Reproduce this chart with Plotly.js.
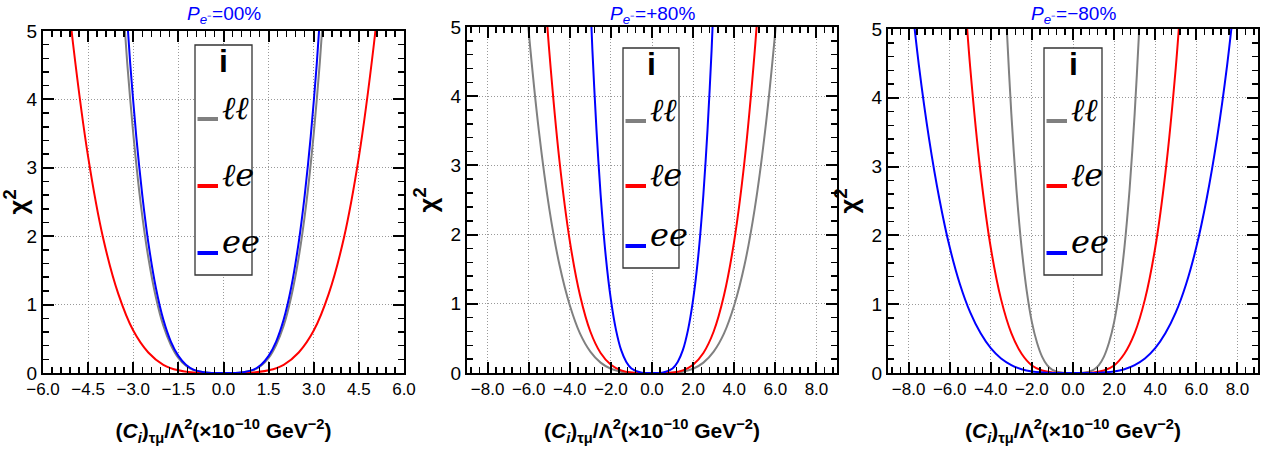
<!DOCTYPE html>
<html><head><meta charset="utf-8">
<script src="https://cdn.plot.ly/plotly-3.0.1.min.js"></script>
<style>html,body{margin:0;padding:0;background:#fff}</style>
</head><body><div id="chart" style="width:1271px;height:454px"></div>
<script>
// ---- data ----
const panelPolarisations = ['00%', '+80%', '\u221280%'];
const seriesNames = ['\u2113\u2113', '\u2113e', 'ee'];
const seriesColors = ['#808080', '#ff0000', '#0000ff'];

// Panel 1 : P = 00%
const p1_ll_x = [-3.4,-3.2,-3.0,-2.75,-2.5,-2.25,-2.0,-1.75,-1.5,-1.25,-1.0,-0.5,0,0.5,1.0,1.25,1.5,1.75,2.0,2.25,2.5,2.75,3.0,3.2,3.4];
const p1_ll_y = [5.77,4.53,3.50,2.47,1.69,1.11,0.69,0.41,0.22,0.105,0.043,0.003,0,0.003,0.043,0.105,0.22,0.41,0.69,1.11,1.69,2.47,3.50,4.53,5.77];
const p1_le_x = [-5.3,-5.0,-4.5,-4.0,-3.5,-3.0,-2.5,-2.0,-1.5,-1.0,-0.5,0,0.5,1.0,1.5,2.0,2.5,3.0,3.5,4.0,4.5,5.0,5.3];
const p1_le_y = [6.08,4.81,3.16,1.97,1.16,0.62,0.30,0.12,0.039,0.008,0.0005,0,0.0005,0.008,0.039,0.12,0.30,0.62,1.16,1.97,3.16,4.81,6.08];
const p1_ee_x = [-3.3,-3.1,-2.9,-2.7,-2.5,-2.25,-2.0,-1.75,-1.5,-1.25,-1.0,-0.5,0,0.5,1.0,1.25,1.5,1.75,2.0,2.25,2.5,2.7,2.9,3.1,3.3];
const p1_ee_y = [5.80,4.52,3.46,2.60,1.91,1.25,0.78,0.46,0.25,0.12,0.049,0.003,0,0.003,0.049,0.12,0.25,0.46,0.78,1.25,1.91,2.60,3.46,4.52,5.80];

// Panel 2 : P = +80%
const p2_ll_x = [-6.3,-6.0,-5.5,-5.0,-4.5,-4.0,-3.5,-3.0,-2.5,-2.0,-1.5,-1.0,0,1.0,1.5,2.0,2.5,3.0,3.5,4.0,4.5,5.0,5.5,6.0,6.3];
const p2_ll_y = [6.0,4.94,3.49,2.38,1.56,0.98,0.57,0.31,0.15,0.061,0.019,0.004,0,0.004,0.019,0.061,0.15,0.31,0.57,0.98,1.56,2.38,3.49,4.94,6.0];
const p2_le_x = [-5.4,-5.0,-4.5,-4.0,-3.5,-3.0,-2.5,-2.0,-1.5,-1.0,0,1.0,1.5,2.0,2.5,3.0,3.5,4.0,4.5,5.0,5.4];
const p2_le_y = [6.33,4.66,3.06,1.91,1.12,0.60,0.29,0.12,0.038,0.007,0,0.007,0.038,0.12,0.29,0.60,1.12,1.91,3.06,4.66,6.33];
const p2_ee_x = [-3.1,-2.9,-2.7,-2.5,-2.25,-2.0,-1.75,-1.5,-1.25,-1.0,-0.5,0,0.5,1.0,1.25,1.5,1.75,2.0,2.25,2.5,2.7,2.9,3.1];
const p2_ee_y = [6.10,4.67,3.51,2.58,1.69,1.06,0.62,0.33,0.16,0.066,0.004,0,0.004,0.066,0.16,0.33,0.62,1.06,1.69,2.58,3.51,4.67,6.10];

// Panel 3 : P = -80%
const p3_ll_x = [-3.4,-3.2,-3.0,-2.75,-2.5,-2.25,-2.0,-1.75,-1.5,-1.25,-1.0,-0.5,0,0.5,1.0,1.25,1.5,1.75,2.0,2.25,2.5,2.75,3.0,3.2,3.4];
const p3_ll_y = [6.21,4.88,3.77,2.66,1.82,1.19,0.74,0.44,0.235,0.11,0.047,0.003,0,0.003,0.047,0.11,0.235,0.44,0.74,1.19,1.82,2.66,3.77,4.88,6.21];
const p3_le_x = [-5.4,-5.0,-4.5,-4.0,-3.5,-3.0,-2.5,-2.0,-1.5,-1.0,0,1.0,1.5,2.0,2.5,3.0,3.5,4.0,4.5,5.0,5.4];
const p3_le_y = [6.05,4.44,2.92,1.82,1.07,0.58,0.28,0.11,0.036,0.007,0,0.007,0.036,0.11,0.28,0.58,1.07,1.82,2.92,4.44,6.05];
const p3_ee_x = [-8.1,-7.5,-7.0,-6.5,-6.0,-5.5,-5.0,-4.5,-4.0,-3.5,-3.0,-2.5,-2.0,-1.0,0,1.0,2.0,2.5,3.0,3.5,4.0,4.5,5.0,5.5,6.0,6.5,7.0,7.5,8.1];
const p3_ee_y = [6.09,4.48,3.40,2.53,1.83,1.29,0.88,0.58,0.36,0.21,0.115,0.055,0.023,0.0014,0,0.0014,0.023,0.055,0.115,0.21,0.36,0.58,0.88,1.29,1.83,2.53,3.40,4.48,6.09];

const xRanges = [[-6, 6], [-9, 9], [-9, 9]];
const xDticks = [1.5, 2, 2];
const xMinorDticks = [0.3, 0.4, 0.4];

// ---- layout helpers (pixel geometry) ----
const W = 1271, H = 454;
const px = v => v / W;
const py = v => 1 - v / H;
const plotBoxes = [ // left, right, top, bottom in pixels
  [43, 404, 31, 373],
  [467, 837, 27, 373],
  [888, 1258, 29, 373]
];
const legendBoxes = [ // left, right, top, bottom, line y's
  [195, 252, 45, 275, [119, 186, 253]],
  [623, 679, 48, 268, [121, 186, 246]],
  [1044, 1102, 48, 275, [121, 186, 253]]
];

const sansFam = 'Liberation Sans Narrow, Arial Narrow, Liberation Sans, Arial, sans-serif';
const tickFont = {family: sansFam, size: 17, color: '#000'};
const xTitleText = '<b>(<i>C<sub>i</sub></i>)<sub>\u03c4\u03bc</sub>/\u039b<sup>2</sup>(\u00d710<sup>\u221210</sup> GeV<sup>\u22122</sup>)</b>';

const panelData = [
  [[p1_ll_x, p1_ll_y], [p1_le_x, p1_le_y], [p1_ee_x, p1_ee_y]],
  [[p2_ll_x, p2_ll_y], [p2_le_x, p2_le_y], [p2_ee_x, p2_ee_y]],
  [[p3_ll_x, p3_ll_y], [p3_le_x, p3_le_y], [p3_ee_x, p3_ee_y]]
];

const traces = [];
const layout = {
  width: W, height: H,
  margin: {l: 0, r: 0, t: 0, b: 0},
  paper_bgcolor: '#fff', plot_bgcolor: '#fff',
  showlegend: false,
  shapes: [], annotations: []
};

panelData.forEach((panel, p) => {
  const sfx = p === 0 ? '' : String(p + 1);
  panel.forEach((s, i) => {
    traces.push({
      type: 'scatter', mode: 'lines', x: s[0], y: s[1],
      xaxis: 'x' + sfx, yaxis: 'y' + sfx, name: seriesNames[i],
      line: {color: seriesColors[i], width: 2, shape: 'spline', smoothing: 0.8},
      hoverinfo: 'skip'
    });
  });
  const b = plotBoxes[p];
  layout['xaxis' + sfx] = {
    domain: [px(b[0]), px(b[1])], anchor: 'y' + sfx,
    range: xRanges[p], dtick: xDticks[p], tick0: 0, tickformat: '.1f', tickangle: 0,
    showline: true, linecolor: '#000', linewidth: 2, mirror: 'allticks',
    ticks: 'inside', ticklen: 11, tickwidth: 2, tickcolor: '#000',
    showgrid: true, gridcolor: '#999999', griddash: '1px,2px', gridwidth: 1,
    zeroline: false, tickfont: tickFont,
    minor: {dtick: xMinorDticks[p], tick0: 0, ticks: 'inside', ticklen: 6, tickwidth: 1.5, tickcolor: '#000', showgrid: false},
    title: {text: xTitleText, font: {family: sansFam, size: 21, color: '#000'}, standoff: 25}
  };
  layout['yaxis' + sfx] = {
    domain: [py(b[3]), py(b[2])], anchor: 'x' + sfx,
    range: [0, 5], dtick: 1, tick0: 0,
    showline: true, linecolor: '#000', linewidth: 2, mirror: 'allticks',
    ticks: 'inside', ticklen: 11, tickwidth: 2, tickcolor: '#000',
    showgrid: true, gridcolor: '#999999', griddash: '1px,2px', gridwidth: 1,
    zeroline: false, tickfont: {family: sansFam, size: 19, color: '#000'},
    minor: {dtick: 0.2, tick0: 0, ticks: 'inside', ticklen: 6, tickwidth: 1.5, tickcolor: '#000', showgrid: false},
    title: {text: '<b>\u03c7<sup>2</sup></b>', font: {family: 'Liberation Sans, Arial, sans-serif', size: 26, color: '#000'}, standoff: 6}
  };
  // panel title
  layout.annotations.push({
    xref: 'paper', yref: 'paper', x: px((b[0] + b[1]) / 2), y: py(15),
    xanchor: 'center', yanchor: 'middle', showarrow: false,
    text: '<i>P</i><sub><i>e</i>\u207b</sub>=' + panelPolarisations[p],
    font: {family: sansFam, size: 19, color: '#0000ff'}
  });
  // legend box
  const L = legendBoxes[p];
  layout.shapes.push({
    type: 'rect', xref: 'paper', yref: 'paper', layer: 'above',
    x0: px(L[0]), x1: px(L[1]), y0: py(L[3]), y1: py(L[2]),
    line: {color: '#333', width: 1.3}, fillcolor: '#fff'
  });
  layout.annotations.push({
    xref: 'paper', yref: 'paper', x: px((L[0] + L[1]) / 2), y: py(L[2] + 16),
    xanchor: 'center', yanchor: 'middle', showarrow: false,
    text: '<b>i</b>', font: {family: 'Liberation Sans, Arial, sans-serif', size: 32, color: '#000'}
  });
  L[4].forEach((ly, i) => {
    layout.shapes.push({
      type: 'line', xref: 'paper', yref: 'paper', layer: 'above',
      x0: px(L[0] + 2.5), x1: px(L[0] + 23), y0: py(ly), y1: py(ly),
      line: {color: seriesColors[i], width: 4}
    });
    layout.annotations.push({
      xref: 'paper', yref: 'paper', x: px(L[0] + 25), y: py(ly - 11),
      xanchor: 'left', yanchor: 'middle', showarrow: false,
      text: '<i>' + seriesNames[i] + '</i>',
      font: {family: 'DejaVu Serif, serif', size: 32, color: '#000'}
    });
  });
});

Plotly.newPlot('chart', traces, layout, {staticPlot: true, displayModeBar: false});
</script>
</body></html>
